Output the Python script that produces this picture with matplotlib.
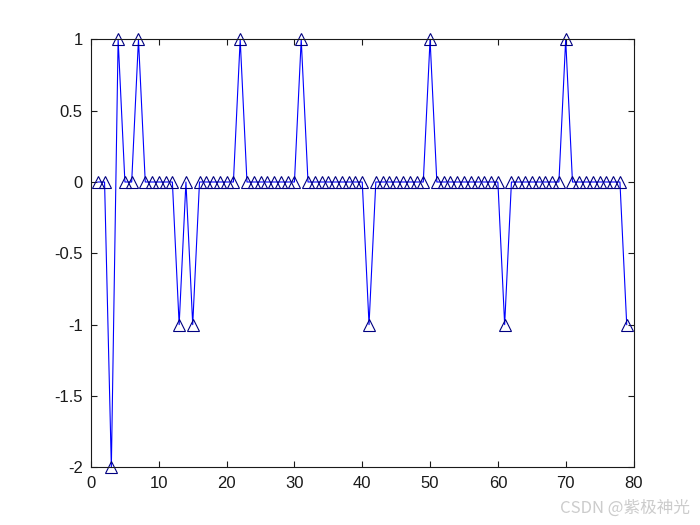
import matplotlib.pyplot as plt

plt.rcParams['font.family'] = ['Liberation Sans', 'DejaVu Sans']

# índices de la secuencia y sus valores
n = list(range(1, 80))
valores = [0, 0, -2, 1, 0, 0, 1, 0, 0, 0,
           0, 0, -1, 0, -1, 0, 0, 0, 0, 0,
           0, 1, 0, 0, 0, 0, 0, 0, 0, 0,
           1, 0, 0, 0, 0, 0, 0, 0, 0, 0,
           -1, 0, 0, 0, 0, 0, 0, 0, 0, 1,
           0, 0, 0, 0, 0, 0, 0, 0, 0, 0,
           -1, 0, 0, 0, 0, 0, 0, 0, 0, 1,
           0, 0, 0, 0, 0, 0, 0, 0, -1]
xticks = [0, 10, 20, 30, 40, 50, 60, 70, 80]
yticks = [-2, -1.5, -1, -0.5, 0, 0.5, 1]
ytick_labels = ['-2', '-1.5', '-1', '-0.5', '0', '0.5', '1']

fig = plt.figure(figsize=(7, 5.25), dpi=100)
ax = fig.add_axes([0.13, 0.11, 0.775, 0.815])

ax.plot(n, valores, color='#0000ff', linewidth=0.8, marker='^',
        markersize=8, markerfacecolor='none', markeredgecolor='#000080',
        markeredgewidth=0.8, clip_on=False)

ax.set_xlim(0, 80)
ax.set_ylim(-2, 1)
ax.set_xticks(xticks)
ax.set_yticks(yticks)
ax.set_yticklabels(ytick_labels)
ax.tick_params(direction='in', length=4, labelsize=12, top=True, right=True,
               width=0.8, colors='#1a1a1a', pad=6)
for s in ax.spines.values():
    s.set_linewidth(0.8)
    s.set_color('#1a1a1a')

# marca de agua
fig.text(0.985, 0.015, 'CSDN @紫极神光', ha='right', va='bottom', fontsize=12,
         color='#cccccc', family=['Noto Sans CJK SC', 'DejaVu Sans'])

fig.savefig('out.png', dpi=100)
